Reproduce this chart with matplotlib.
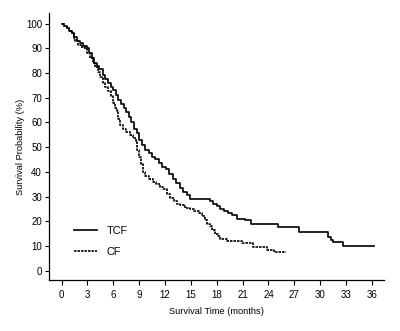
import matplotlib
matplotlib.use('Agg')
import matplotlib.pyplot as plt

plt.rcParams['font.family'] = ['Liberation Sans', 'DejaVu Sans']

# Kaplan-Meier step curves
tcf_time = [0, 0.3, 0.6, 0.9, 1.2, 1.5, 1.8, 2.1, 2.5, 2.9, 3.2, 3.5, 3.8, 4.1, 4.4,
            4.8, 5.1, 5.4, 5.7, 6.0, 6.3, 6.6, 6.9, 7.2, 7.5, 7.8, 8.1, 8.4, 8.7, 9.0,
            9.3, 9.7, 10.1, 10.5, 10.9, 11.3, 11.7, 12.1, 12.5, 12.9, 13.3, 13.7, 14.1,
            14.5, 14.9, 17.2, 17.6, 18.0, 18.4, 18.8, 19.3, 19.8, 20.3, 21.3, 22.0,
            25.1, 27.5, 30.9, 31.2, 31.5, 32.7, 36.2]
tcf_surv = [100, 99, 98, 97, 96, 94.5, 93, 92, 91, 90, 88, 86, 84, 83, 81.5,
            79, 77.5, 76, 74.5, 73, 71, 69, 67.5, 66, 64, 62, 60, 57.5, 55.5, 53,
            51, 49, 47.5, 46, 45, 43.5, 42, 41, 39, 37, 35.5, 33.5, 32,
            30.5, 29, 28, 27, 26, 25, 24, 23.5, 22.5, 21, 20.5, 19,
            17.5, 15.5, 13.5, 12.5, 11.5, 10, 10]

cf_time = [0, 0.3, 0.6, 0.9, 1.2, 1.4, 1.6, 1.9, 2.3, 2.7, 3.0, 3.3, 3.6, 3.9, 4.2,
           4.5, 4.8, 5.1, 5.4, 5.7, 6.0, 6.2, 6.4, 6.6, 6.8, 7.1, 7.5, 7.9, 8.3, 8.6,
           8.8, 9.0, 9.2, 9.4, 9.7, 10.1, 10.6, 11.0, 11.4, 11.8, 12.2, 12.6, 13.0,
           13.4, 13.8, 14.3, 14.9, 15.4, 16.0, 16.3, 16.6, 16.9, 17.2, 17.5, 17.8,
           18.1, 18.4, 19.2, 20.9, 22.2, 23.8, 24.7, 26.0]
cf_surv = [100, 99, 98, 97, 96, 94, 93, 91.5, 90.5, 89.5, 88, 86, 84, 82.5, 80.5,
           78.5, 76, 74.5, 72.5, 70.5, 68, 66, 64, 61.5, 59, 57.5, 56, 55, 53.5, 52,
           49, 46, 43, 40, 38.5, 37, 36, 35, 34, 33, 31, 29.5, 28,
           27, 26.5, 25.5, 25, 24, 23.5, 22, 20.5, 19, 18, 16.5, 15,
           14, 13, 12, 11, 9.5, 8.5, 7.5, 7.5]

x_ticks = list(range(0, 37, 3))
y_ticks = list(range(0, 101, 10))

fig = plt.figure(figsize=(4, 3.31), dpi=100)
ax = fig.add_axes([0.1225, 0.154, 0.8375, 0.807])

ax.step(tcf_time, tcf_surv, where='post', color='black', lw=1.2, label='TCF')
ax.step(cf_time, cf_surv, where='post', color='black', lw=1.2,
        linestyle=(0, (1.5, 0.6)), label='CF')

ax.set_xlim(-1.45, 37.4)
ax.set_ylim(-3.8, 104.3)
ax.set_xticks(x_ticks)
ax.set_yticks(y_ticks)
ax.tick_params(labelsize=7, length=3, width=0.8, pad=2)
ax.tick_params(axis='x', length=3.5, pad=4)
ax.spines['top'].set_visible(False)
ax.spines['right'].set_visible(False)
for s in ['left', 'bottom']:
    ax.spines[s].set_linewidth(0.9)

ax.set_xlabel('Survival Time (months)', fontsize=6.7, labelpad=5)
ax.set_ylabel('Survival Probability (%)', fontsize=6.7, labelpad=1)

ax.legend(loc='lower left', bbox_to_anchor=(0.045, 0.05), frameon=False,
          fontsize=7.8, handlelength=2.1, labelspacing=1.0, handletextpad=0.9)

fig.savefig('out.png', dpi=100)
